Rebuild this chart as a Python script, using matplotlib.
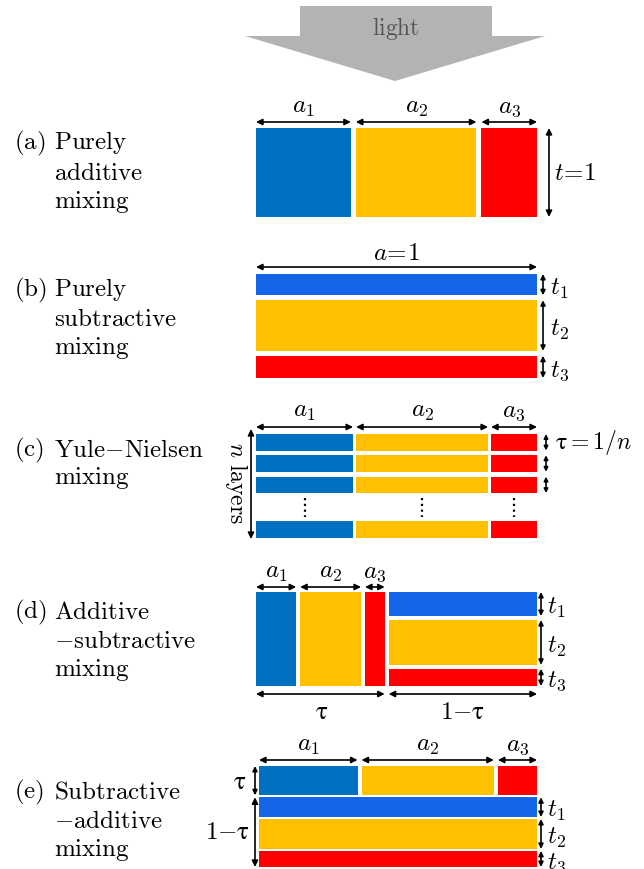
import matplotlib.pyplot as plt

plt.rcParams['mathtext.fontset'] = 'cm'

BLUE_ADD = '#0070C0'
BLUE_SUB = '#1565E8'
YELLOW = '#FFC000'
RED = '#FF0000'
colors_add = [BLUE_ADD, YELLOW, RED]
colors_sub = [BLUE_SUB, YELLOW, RED]

# (a) purely additive: area coverages a1..a3
a_add = [0.35, 0.445, 0.205]
# (b) purely subtractive: layer thicknesses t1..t3
t_sub = [0.226, 0.538, 0.236]
# (c) Yule-Nielsen: area coverages, layers shown (top three + last)
a_yn = [0.353, 0.48, 0.167]
yn_rows = [0, 1, 2, 4.1]
# (d) additive-subtractive
tau_d = 0.465
a_d = [0.333, 0.504, 0.163]
t_d = [0.28, 0.52, 0.20]
# (e) subtractive-additive
tau_e = 0.30
a_e = [0.365, 0.49, 0.145]
t_e = [0.30, 0.455, 0.245]

sub_labels = ['$a_1$', '$a_2$', '$a_3$']
t_labels = ['$t_1$', '$t_2$', '$t_3$']
TAU = r'$\mathrm{τ}$'


def split(start, length, fracs, gap):
    usable = length - gap * (len(fracs) - 1)
    edges = []
    pos = start
    for f in fracs:
        edges.append((pos, pos + f * usable))
        pos += f * usable + gap
    return edges


def columns(ax, x0, width, y0, height, fracs, colors, gap):
    edges = split(x0, width, fracs, gap)
    for (l, r), c in zip(edges, colors):
        ax.bar(l, height, width=r - l, bottom=y0, align='edge', color=c, linewidth=0)
    return edges


def layers(ax, x0, width, y0, height, fracs, colors, gap):
    edges = split(y0, height, fracs, gap)
    for (t, b), c in zip(edges, colors):
        ax.bar(x0, b - t, width=width, bottom=t, align='edge', color=c, linewidth=0)
    return edges


def darrow(ax, x1, y1, x2, y2, ms=9):
    ax.annotate('', xy=(x2, y2), xytext=(x1, y1),
                arrowprops=dict(arrowstyle='<|-|>', color='black', lw=1.2,
                                mutation_scale=ms, shrinkA=0, shrinkB=0))


def top_arrows(ax, edges, y, ylab, fs=18):
    for (l, r), lab in zip(edges, sub_labels):
        darrow(ax, l, y, r, y)
        ax.text((l + r) / 2, ylab, lab, fontsize=fs, ha='center', va='center')


def side_arrows(ax, edges, x, xlab, fs=18):
    for (t, b), lab in zip(edges, t_labels):
        darrow(ax, x, t, x, b, ms=7)
        ax.text(xlab, (t + b) / 2 + 3, lab, fontsize=fs, ha='left', va='center')


def panel_label(ax, tag, lines, y0, dy):
    ax.text(14, y0, r'$\mathrm{(%s)}$' % tag, fontsize=18, ha='left', va='center')
    for i, ln in enumerate(lines):
        ax.text(54, y0 + i * dy, ln, fontsize=18, ha='left', va='center')


fig = plt.figure(figsize=(6.44, 8.70), dpi=100)
ax = fig.add_axes([0, 0, 1, 1])
ax.set_xlim(0, 644)
ax.set_ylim(870, 0)
ax.axis('off')

# light arrow
ax.fill([300, 492, 492, 545, 395, 245, 300, 300],
        [7, 7, 37, 37, 82, 37, 37, 7], color='#B3B3B3', lw=0)
ax.text(396, 28, r'$\mathrm{light}$', fontsize=17, color='#555555', ha='center', va='center')

X0, W = 256, 281

# (a)
panel_label(ax, 'a', [r'$\mathrm{Purely}$', r'$\mathrm{additive}$', r'$\mathrm{mixing}$'], 143, 29.5)
e = columns(ax, X0, W, 129, 89, a_add, colors_add, 5)
top_arrows(ax, e, 123, 107)
darrow(ax, 549, 129, 549, 218)
ax.text(554, 173, r'$t\!=\!1$', fontsize=18, ha='left', va='center')

# (b)
panel_label(ax, 'b', [r'$\mathrm{Purely}$', r'$\mathrm{subtractive}$', r'$\mathrm{mixing}$'], 290, 29)
darrow(ax, X0, 268, X0 + W, 268)
ax.text(X0 + W / 2, 253, r'$a\!=\!1$', fontsize=18, ha='center', va='center')
e = layers(ax, X0, W, 275, 104, t_sub, colors_sub, 5)
side_arrows(ax, e, 543, 550)

# (c)
panel_label(ax, 'c', [r'$\mathrm{Yule{-}Nielsen}$', r'$\mathrm{mixing}$'], 450, 28)
pitch, thick = 21.3, 16.5
for r in yn_rows:
    e = columns(ax, X0, W, 435 + r * pitch, thick, a_yn, colors_add, 3)
top_arrows(ax, e, 428, 411)
for l, r in e:
    ax.plot([(l + r) / 2] * 2, [499, 518], ls=(0, (1, 1.6)), color='black', lw=1.6)
for r in yn_rows[:3]:
    darrow(ax, 546, 435 + r * pitch, 546, 435 + r * pitch + thick, ms=6)
ax.text(555, 443, r'$\mathrm{τ}=1/n$', fontsize=17, ha='left', va='center')
darrow(ax, 251, 430, 251, 540)
ax.text(237, 483, r'$n\ \mathrm{layers}$', fontsize=17, ha='center', va='center', rotation=-90)

# (d)
panel_label(ax, 'd', [r'$\mathrm{Additive}$', r'$-\mathrm{subtractive}$', r'$\mathrm{mixing}$'], 612, 29)
wl = tau_d * W
e = columns(ax, X0, wl - 2, 593, 94, a_d, colors_add, 4)
top_arrows(ax, e, 588, 572)
xr = X0 + wl + 2
e = layers(ax, xr, X0 + W - xr, 593, 94, t_d, colors_sub, 4)
side_arrows(ax, e, 541, 547)
darrow(ax, X0, 695, X0 + wl - 2, 695)
darrow(ax, xr, 695, X0 + W, 695)
ax.text(X0 + wl / 2, 712, TAU, fontsize=18, ha='center', va='center')
ax.text((xr + X0 + W) / 2, 712, r'$1{-}\mathrm{τ}$', fontsize=18, ha='center', va='center')

# (e)
panel_label(ax, 'e', [r'$\mathrm{Subtractive}$', r'$-\mathrm{additive}$', r'$\mathrm{mixing}$'], 792, 29)
xe, we, ye, he = 259, 278, 767, 101
htop = tau_e * he
e = columns(ax, xe, we, ye, htop - 1, a_e, colors_add, 4)
top_arrows(ax, e, 761, 745)
e = layers(ax, xe, we, ye + htop + 1, he - htop - 1, t_e, colors_sub, 2)
side_arrows(ax, e, 541, 547)
darrow(ax, 255, ye, 255, ye + htop - 1, ms=7)
darrow(ax, 255, ye + htop + 1, 255, ye + he)
ax.text(240, ye + htop / 2, TAU, fontsize=18, ha='center', va='center')
ax.text(227, 832, r'$1{-}\mathrm{τ}$', fontsize=18, ha='center', va='center')

fig.savefig('out.png', dpi=100)
